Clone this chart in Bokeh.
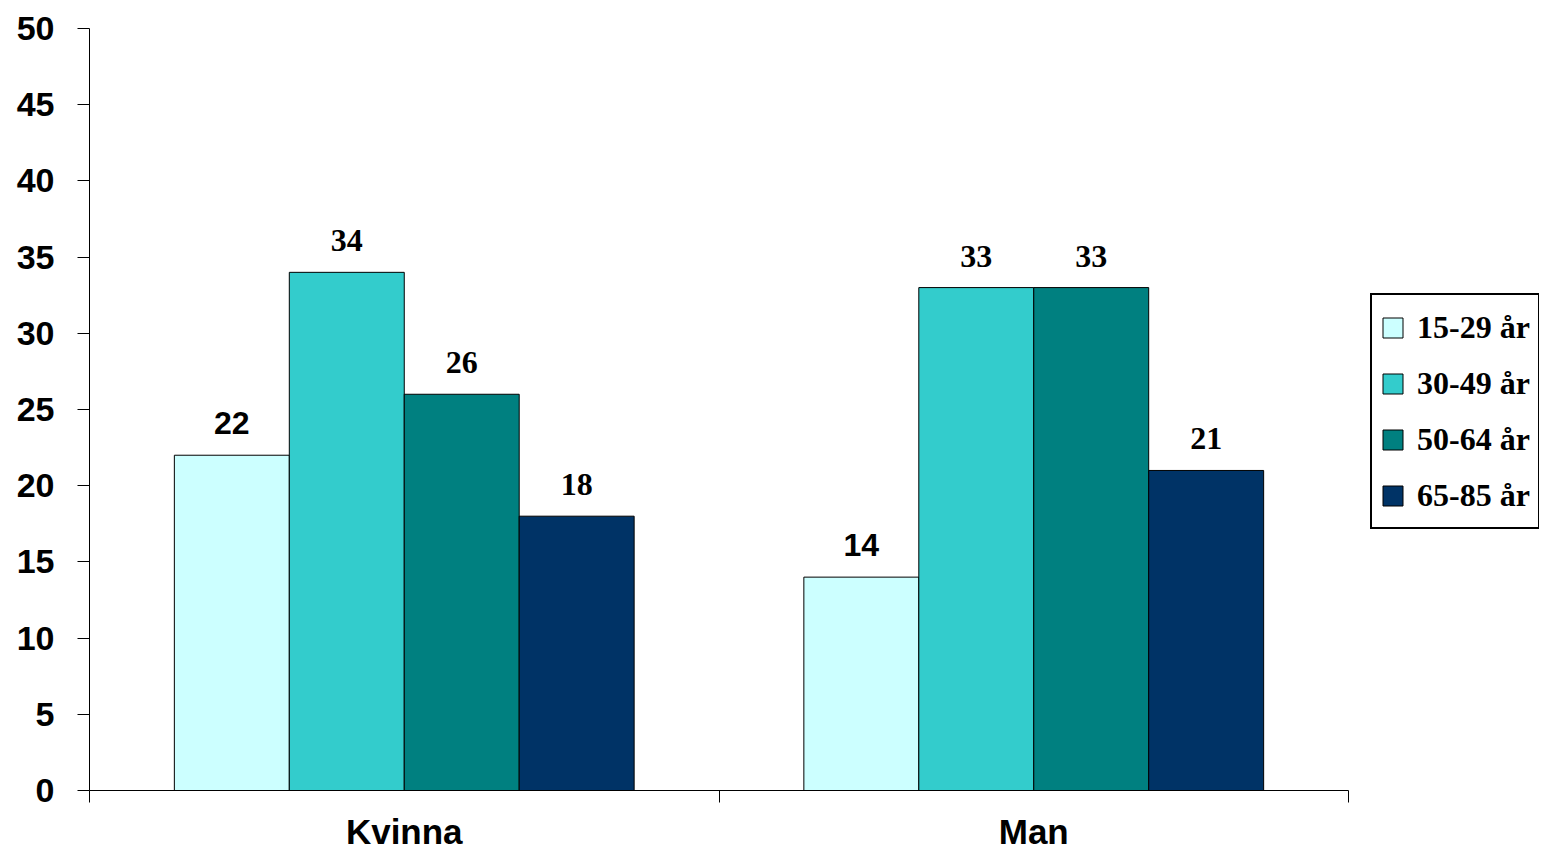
from bokeh.plotting import figure
from bokeh.models import Range1d, FixedTicker, ColumnDataSource, LabelSet, Legend, LegendItem
from bokeh.core.properties import value
from bokeh.embed import file_html
from bokeh.resources import INLINE

# ---- data ----
categories = ["Kvinna", "Man"]
age_groups = ["15-29 år", "30-49 år", "50-64 år", "65-85 år"]
v_15_29 = [22, 14]
v_30_49 = [34, 33]
v_50_64 = [26, 33]
v_65_85 = [18, 21]
series = [v_15_29, v_30_49, v_50_64, v_65_85]
colors = ["#CCFFFF", "#33CCCC", "#008080", "#003366"]
label_fonts = ["Liberation Sans", "Liberation Serif", "Liberation Serif", "Liberation Serif"]
y_ticks = list(range(0, 51, 5))

bar_w = 0.1826
n_cat = len(categories)
centers = [i + 0.5 for i in range(n_cat)]
bounds = [i for i in range(n_cat + 1)]

# layout: plot frame runs to the right edge so the legend can sit beside the bars;
# the axis line itself is bounded to the category span
W, H = 1539, 853
left, top, bottom = 89, 28, 63
axis_px = 1259                      # pixel length of the category span
frame_px = W - left
x_end = n_cat * frame_px / axis_px

p = figure(width=W, height=H, output_backend="svg", toolbar_location=None,
           x_range=Range1d(0, x_end), y_range=Range1d(0, 50),
           min_border_left=left, min_border_right=0, min_border_top=top, min_border_bottom=bottom)
p.outline_line_color = None
p.xgrid.visible = False
p.ygrid.visible = False
p.background_fill_color = "white"
p.border_fill_color = "white"

items = []
for k, (vals, col, name, font) in enumerate(zip(series, colors, age_groups, label_fonts)):
    off = (k - (len(series) - 1) / 2) * bar_w
    xs = [c + off for c in centers]
    src = ColumnDataSource(dict(x=xs, top=vals, txt=[str(v) for v in vals]))
    r = p.vbar(x="x", top="top", bottom=0, width=bar_w, source=src,
               fill_color=col, line_color="black", line_width=1)
    items.append(LegendItem(label=name, renderers=[r]))
    lbl = LabelSet(x="x", y="top", text="txt", source=src, text_align="center",
                   text_baseline="alphabetic", y_offset=21,
                   text_font=value(font), text_font_style="bold", text_font_size="32px",
                   text_color="black")
    p.add_layout(lbl)

legend = Legend(items=items, location=(1281, 261), orientation="vertical")
legend.label_text_font = "Liberation Serif"
legend.label_text_font_style = "bold"
legend.label_text_font_size = "32px"
legend.label_text_color = "black"
legend.label_height = 48
legend.glyph_width = 25
legend.glyph_height = 25
legend.spacing = 8
legend.padding = 8
legend.margin = 0
legend.label_standoff = 12
legend.border_line_color = "black"
legend.border_line_alpha = 1
legend.border_line_width = 2
legend.background_fill_color = "white"
legend.background_fill_alpha = 1
p.add_layout(legend, "center")

# y axis
ya = p.yaxis[0]
ya.ticker = FixedTicker(ticks=y_ticks)
ya.major_tick_out = 12
ya.major_tick_in = 0
ya.minor_tick_line_color = None
ya.axis_line_color = "black"
ya.axis_line_width = 1
ya.major_tick_line_color = "black"
ya.major_tick_line_width = 1
ya.major_label_text_font = "Liberation Sans"
ya.major_label_text_font_style = "bold"
ya.major_label_text_font_size = "34px"
ya.major_label_text_color = "black"
ya.major_label_standoff = 23

# x axis
xa = p.xaxis[0]
xa.bounds = (0, n_cat)
xa.ticker = FixedTicker(ticks=centers, minor_ticks=bounds)
xa.major_label_overrides = {c: name for c, name in zip(centers, categories)}
xa.major_tick_line_color = None
xa.major_tick_out = 0
xa.major_tick_in = 0
xa.minor_tick_out = 12
xa.minor_tick_in = 0
xa.minor_tick_line_color = "black"
xa.minor_tick_line_width = 1
xa.axis_line_color = "black"
xa.axis_line_width = 1
xa.major_label_text_font = "Liberation Sans"
xa.major_label_text_font_style = "bold"
xa.major_label_text_font_size = "35px"
xa.major_label_text_color = "black"
xa.major_label_standoff = 9

open("out.html", "w").write(file_html(p, INLINE))
